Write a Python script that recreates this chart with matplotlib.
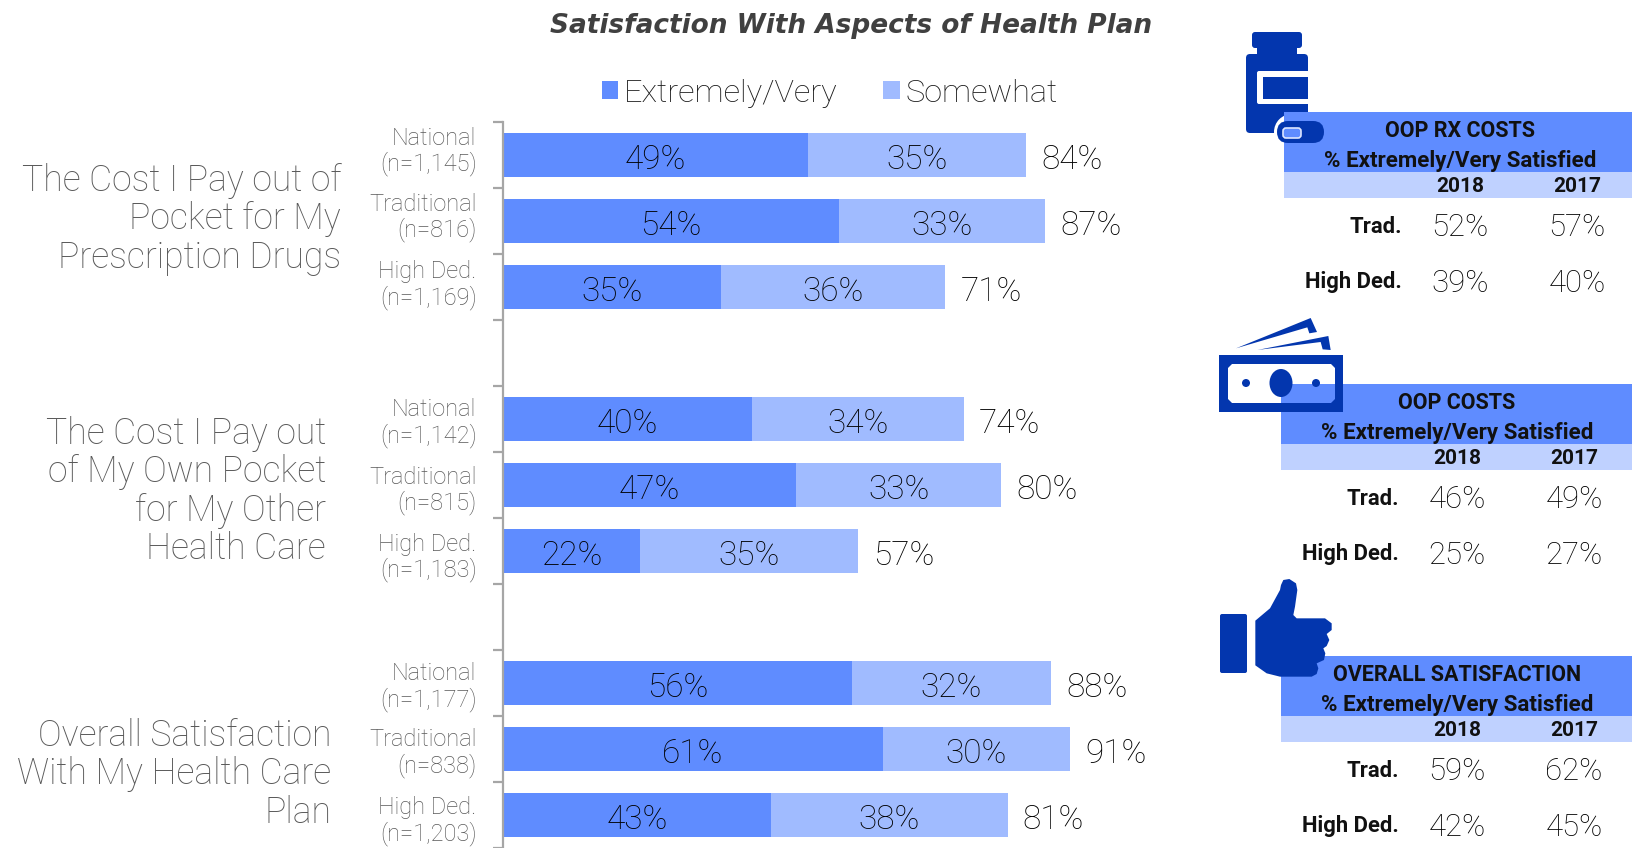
import numpy as np
import matplotlib
matplotlib.use("Agg")
import matplotlib.pyplot as plt
from matplotlib.patches import Rectangle, Circle, Ellipse, Polygon, FancyBboxPatch, PathPatch
from matplotlib.path import Path

plt.rcParams['font.family'] = ['Roboto', 'DejaVu Sans']

# -----------------------------
# Data
# -----------------------------
very = [49, 54, 35, 40, 47, 22, 56, 61, 43]
somewhat = [35, 33, 36, 34, 33, 35, 32, 30, 38]
totals = [84, 87, 71, 74, 80, 57, 88, 91, 81]
rows = [0, 1, 2, 4, 5, 6, 8, 9, 10]
groups = ["National\n(n=1,145)", "Traditional\n(n=816)", "High Ded.\n(n=1,169)",
          "National\n(n=1,142)", "Traditional\n(n=815)", "High Ded.\n(n=1,183)",
          "National\n(n=1,177)", "Traditional\n(n=838)", "High Ded.\n(n=1,203)"]

panel_titles = ["OOP RX COSTS", "OOP COSTS", "OVERALL SATISFACTION"]
trad_2018 = [52, 46, 59]
trad_2017 = [57, 49, 62]
high_2018 = [39, 25, 42]
high_2017 = [40, 27, 45]

C_DARK = "#5F8CFF"
C_LIGHT = "#A0BBFF"
C_PALE = "#BFD1FF"
C_ICON = "#0336AE"
C_GREY = "#595959"

W, H = 1632, 848
fig = plt.figure(figsize=(W / 100, H / 100), dpi=100)

# -----------------------------
# Stacked bars
# -----------------------------
ax = fig.add_axes([503 / W, 0, 623 / W, (H - 122) / H])
y = np.array(rows) + 0.5
b1 = ax.barh(y, very, height=0.667, color=C_DARK, label="Extremely/Very")
b2 = ax.barh(y, somewhat, left=very, height=0.667, color=C_LIGHT, label="Somewhat")

# labels sit a little under the bar centre
lab_y = y + 0.075
for v, s, t, yy in zip(very, somewhat, totals, lab_y):
    ax.text(v / 2, yy, f"{v}%", ha="center", va="center", fontsize=24, fontweight="light", color="black")
    ax.text(v + s / 2, yy, f"{s}%", ha="center", va="center", fontsize=24, fontweight="light", color="black")
    ax.text(t + 2.4, yy, f"{t}%", ha="left", va="center", fontsize=24, fontweight="light", color="black")

ax.set_xlim(0, 100)
ax.set_ylim(11, 0)
ax.xaxis.set_visible(False)
for s in ["top", "right", "bottom"]:
    ax.spines[s].set_visible(False)
ax.spines["left"].set_color("#A6A6A6")
ax.spines["left"].set_linewidth(1.6)
ax.set_yticks(np.arange(0, 12))
ax.set_yticklabels([])
ax.tick_params(axis="y", which="major", length=7.5, width=1.6, color="#A6A6A6")

# group labels are not quite level with their bars in the original
label_shift = [-0.11, -0.11, -0.087, 0.0, 0.024, 0.04, 0.008, 0.008, 0.03]
ax.set_yticks(y + np.array(label_shift), minor=True)
ax.set_yticklabels(groups, minor=True, fontsize=17, fontweight="light",
                   color=C_GREY, linespacing=1.1)
ax.tick_params(axis="y", which="minor", length=0, pad=19)

fig.legend(handles=[b1, b2], ncol=2, frameon=False,
           loc="center", bbox_to_anchor=(830 / W, 1 - 93 / H),
           handlelength=0.5, handleheight=0.5, handletextpad=0.18,
           columnspacing=1.4, labelcolor="#1a1a1a", prop={"size": 23.4, "weight": "light"})

# -----------------------------
# Overlay in pixel coordinates
# -----------------------------
ov = fig.add_axes([0, 0, 1, 1], zorder=5)
ov.set_xlim(0, W)
ov.set_ylim(H, 0)
ov.axis("off")
ov.patch.set_alpha(0)

ov.text(851, 26, "Satisfaction With Aspects of Health Plan", ha="center", va="center",
        fontsize=19, fontweight="bold", style="italic", color="#404040",
        family=["DejaVu Sans"])

left_labels = [
    (341, [181, 219, 258], ["The Cost I Pay out of", "Pocket for My", "Prescription Drugs"]),
    (326, [434, 472, 511, 549], ["The Cost I Pay out", "of My Own Pocket", "for My Other", "Health Care"]),
    (331, [736, 774, 813], ["Overall Satisfaction", "With My Health Care", "Plan"]),
]
for xr, ys, lines in left_labels:
    for yy, line in zip(ys, lines):
        ov.text(xr, yy, line, ha="right", va="center", fontsize=25.6,
                fontweight="light", color=C_GREY)


def zoom_pts(pts, x0, y0):
    return [(x0 + px / 3, y0 + py / 3) for px, py in pts]


# bottle sits under the first panel, pill on top
def draw_bottle():
    ov.add_patch(FancyBboxPatch((1252, 32), 50, 16, boxstyle="round,pad=0,rounding_size=3", fc=C_ICON, ec="none", zorder=1))
    ov.add_patch(Rectangle((1257, 47), 40, 8, fc=C_ICON, ec="none", zorder=1))
    ov.add_patch(FancyBboxPatch((1246, 54), 62, 79, boxstyle="round,pad=0,rounding_size=4", fc=C_ICON, ec="none", zorder=1))
    ov.add_patch(FancyBboxPatch((1257, 71), 60, 33, boxstyle="round,pad=0,rounding_size=2", fc="white", ec="none", zorder=1.1))
    ov.add_patch(Rectangle((1263, 77), 45, 22, fc=C_ICON, ec="none", zorder=1.2))
    ov.add_patch(Circle((1292, 132), 18, fc="white", ec="none", zorder=1.3))
    ov.add_patch(FancyBboxPatch((1277, 121), 47, 22, boxstyle="round,pad=0,rounding_size=11", fc=C_ICON, ec="none", zorder=4))
    ov.add_patch(FancyBboxPatch((1283, 128), 18, 10, boxstyle="round,pad=0,rounding_size=3", fc=C_DARK, ec="#DDE6FF", lw=1.2, zorder=4.1))


def draw_money():
    outer = [(1219, 355), (1343, 355), (1343, 412), (1219, 412), (1219, 355)]
    inner = [(1232, 364), (1331, 364), (1335, 368), (1335, 399), (1331, 403),
             (1232, 403), (1228, 399), (1228, 368), (1232, 364)]
    codes = [Path.MOVETO] + [Path.LINETO] * 3 + [Path.CLOSEPOLY]
    codes2 = [Path.MOVETO] + [Path.LINETO] * 7 + [Path.CLOSEPOLY]
    ov.add_patch(PathPatch(Path(outer + inner[::-1], codes + codes2), fc=C_ICON, ec="none", zorder=4))
    ov.add_patch(Ellipse((1281, 383), 23, 28, fc=C_ICON, ec="none", zorder=4))
    ov.add_patch(Circle((1246, 383), 4, fc=C_ICON, ec="none", zorder=4))
    ov.add_patch(Circle((1316, 383), 4, fc=C_ICON, ec="none", zorder=4))
    bill1 = [(108, 115), (332, 24), (351, 66), (328, 70), (322, 52)]
    bill2 = [(172, 120), (385, 78), (392, 120), (368, 118), (362, 96)]
    ov.add_patch(Polygon(zoom_pts(bill1, 1200, 310), fc=C_ICON, ec="none", zorder=4))
    ov.add_patch(Polygon(zoom_pts(bill2, 1200, 310), fc=C_ICON, ec="none", zorder=4))


def draw_thumb():
    ov.add_patch(FancyBboxPatch((1220, 614), 27, 59, boxstyle="round,pad=0,rounding_size=2", fc=C_ICON, ec="none", zorder=4))
    hand = [(166, 152), (210, 115), (240, 60), (243, 45), (250, 30), (268, 27), (288, 40),
            (292, 60), (285, 110), (280, 135), (290, 145), (375, 145), (395, 160), (395, 180),
            (380, 192), (388, 210), (380, 228), (370, 235), (376, 250), (372, 270), (350, 280),
            (355, 295), (350, 312), (335, 320), (240, 320), (200, 310), (166, 286)]
    ov.add_patch(Polygon(zoom_pts(hand, 1200, 570), fc=C_ICON, ec="none", zorder=4))


draw_bottle()
draw_money()
draw_thumb()

# -----------------------------
# Side tables
# -----------------------------
panel_x = [1284, 1281, 1281]
panel_y = [112, 384, 656]
for i in range(3):
    px, py = panel_x[i], panel_y[i]
    ov.add_patch(Rectangle((px, py), W - px, 60, fc=C_DARK, ec="none", zorder=2))
    ov.add_patch(Rectangle((px, py + 60), W - px, 26, fc=C_PALE, ec="none", zorder=2))
    c18 = px + 176
    c17 = px + 293
    ov.text(c18, py + 19, panel_titles[i], ha="center", va="center", fontsize=15.5, fontweight="bold", color="#111111", zorder=3)
    ov.text(c18, py + 49, "% Extremely/Very Satisfied", ha="center", va="center", fontsize=16.1, fontweight="bold", color="#111111", zorder=3)
    ov.text(c18, py + 75, "2018", ha="center", va="center", fontsize=15, fontweight="bold", color="#111111", zorder=3)
    ov.text(c17, py + 75, "2017", ha="center", va="center", fontsize=15, fontweight="bold", color="#111111", zorder=3)
    ov.text(px + 118, py + 115, "Trad.", ha="right", va="center", fontsize=15.8, fontweight="bold", color="#111111")
    ov.text(px + 118, py + 170, "High Ded.", ha="right", va="center", fontsize=15.8, fontweight="bold", color="#111111")
    ov.text(c18, py + 116, f"{trad_2018[i]}%", ha="center", va="center", fontsize=22.4, fontweight="light", color="black")
    ov.text(c17, py + 116, f"{trad_2017[i]}%", ha="center", va="center", fontsize=22.4, fontweight="light", color="black")
    ov.text(c18, py + 171, f"{high_2018[i]}%", ha="center", va="center", fontsize=22.4, fontweight="light", color="black")
    ov.text(c17, py + 171, f"{high_2017[i]}%", ha="center", va="center", fontsize=22.4, fontweight="light", color="black")

fig.savefig("out.png", dpi=100)
